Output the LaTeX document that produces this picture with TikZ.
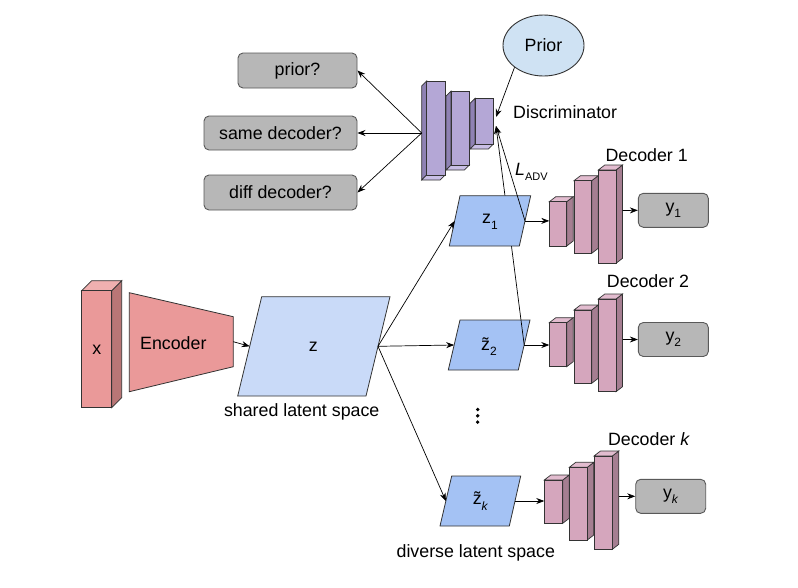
\documentclass[tikz,border=0pt]{standalone}
\usepackage{fontspec}
\setmainfont{Liberation Sans}
\usetikzlibrary{arrows.meta,shapes.geometric}
\definecolor{edge}{HTML}{333333}
\definecolor{boxgray}{HTML}{B7B7B7}
\definecolor{boxedge}{HTML}{595959}
\definecolor{priorblue}{HTML}{CFE2F3}
\definecolor{zbig}{HTML}{C9DAF8}
\definecolor{zsmall}{HTML}{A4C2F4}
\definecolor{redfront}{HTML}{EA9999}
\definecolor{redtop}{HTML}{F0B0B0}
\definecolor{redside}{HTML}{B97676}
\definecolor{decfront}{HTML}{D5A6BD}
\definecolor{dectop}{HTML}{E2BCCF}
\definecolor{decside}{HTML}{A57E91}
\definecolor{disfront}{HTML}{B4A7D6}
\definecolor{disbot}{HTML}{C9BFE6}
\definecolor{disside}{HTML}{8F82B4}
\newcommand\mydecbar[4]{%
  \filldraw[fill=decside,draw=edge,line width=0.7pt] (#3,#2) -- (#3+6.5,#2-5) -- (#3+6.5,#4-5) -- (#3,#4) -- cycle;
  \filldraw[fill=dectop,draw=edge,line width=0.7pt] (#1,#2) -- (#1+6.5,#2-5) -- (#3+6.5,#2-5) -- (#3,#2) -- cycle;
  \filldraw[fill=decfront,draw=edge,line width=0.7pt] (#1,#2) rectangle (#3,#4);
}
\newcommand\mydiscbar[4]{%
  \filldraw[fill=disside,draw=edge,line width=0.7pt] (#1,#2) -- (#1-5,#2+5) -- (#1-5,#4+5) -- (#1,#4) -- cycle;
  \filldraw[fill=disbot,draw=edge,line width=0.7pt] (#1,#4) -- (#1-5,#4+5) -- (#3-5,#4+5) -- (#3,#4) -- cycle;
  \filldraw[fill=disfront,draw=edge,line width=0.7pt] (#1,#2) rectangle (#3,#4);
}
\newcommand\sub[1]{\raisebox{-5.5pt}{\fontsize{12}{13}\selectfont #1}}
\begin{document}
\begin{tikzpicture}[x=1pt,y=-1pt,
  lbl/.style={font=\fontsize{17.8}{20}\selectfont, inner sep=0pt},
  graybox/.style={draw=boxedge, fill=boxgray, rounded corners=5pt, line width=0.9pt,
    font=\fontsize{17.8}{20}\selectfont, inner sep=0pt},
  arr/.style={-{Stealth[length=8pt,width=6pt]}, line width=0.7pt, draw=black},
  shapeline/.style={draw=edge, line width=0.8pt}]
\useasboundingbox (0,0) rectangle (798,587);
\fill[white] (0,0) rectangle (798,587);

% ---- gray output boxes
\node[graybox, minimum width=119pt, minimum height=35pt] (pq) at (297.5,70.5) {prior?};
\node[graybox, minimum width=153pt, minimum height=34pt] (sq) at (280.5,133) {same decoder?};
\node[graybox, minimum width=153pt, minimum height=35pt] (dq) at (280.5,192.5) {diff decoder?};
\node[graybox, minimum width=70pt, minimum height=34pt] (y1) at (673.3,210.3) {y\sub{1}};
\node[graybox, minimum width=70pt, minimum height=34pt] (y2) at (673.3,339.5) {y\sub{2}};
\node[graybox, minimum width=70pt, minimum height=34pt] (yk) at (670.7,496.3) {y\sub{\textit{k}}};

% ---- prior
\node[ellipse, draw=edge, fill=priorblue, line width=0.9pt, minimum width=81pt, minimum height=61pt,
  font=\fontsize{17.8}{20}\selectfont, inner sep=0pt] (prior) at (543.5,45.5) {Prior};

% ---- x block
\filldraw[fill=redside,draw=edge,line width=0.8pt] (111.7,290.7) -- (121.7,280.7) -- (121.7,397.7) -- (111.7,407.7) -- cycle;
\filldraw[fill=redtop,draw=edge,line width=0.8pt] (81.7,290.7) -- (91.7,280.7) -- (121.7,280.7) -- (111.7,290.7) -- cycle;
\filldraw[fill=redfront,draw=edge,line width=0.8pt] (81.7,290.7) rectangle (111.7,407.7);
\node[lbl] (xl) at (96.7,350) {x};

% ---- encoder
\filldraw[fill=redfront, shapeline] (129.3,292.7) -- (233.3,316.7) -- (233.3,366.7) -- (129.3,391.7) -- cycle;
\node[lbl] (encl) at (173.3,342.7) {Encoder};
\coordinate (encR) at (233.3,341.7);

% ---- shared z
\filldraw[fill=zbig, shapeline] (261.7,296.7) -- (390,296.7) -- (366,396) -- (237.7,396) -- cycle;
\node[lbl] (zl) at (313.3,347) {z};
\coordinate (zL) at (249.7,346.3);
\coordinate (zR) at (378,346.3);
\node[lbl] (shared) at (301.7,411.7) {shared latent space};

% ---- discriminator
\mydiscbar{426.7}{81}{445}{175}
\mydiscbar{451}{91}{469.3}{165}
\mydiscbar{475}{98.3}{493.3}{144}
\coordinate (D0) at (421.7,133);
\coordinate (Dp) at (496,117);
\coordinate (Dz) at (496,126);
\node[lbl, anchor=west] (discl) at (513,111.7) {Discriminator};
\node[lbl, anchor=west] (ladv) at (515,172) {\textit{L}\raisebox{-5pt}{\fontsize{11}{12}\selectfont ADV}};

% ---- z2 (drawn before the z2 -> D line)
\filldraw[fill=zsmall, shapeline] (460,320) -- (530,320) -- (518.3,370) -- (448.3,370) -- cycle;
\node[lbl] (z2l) at (489,346.5) {\~{z}\sub{2}};
\coordinate (z2L) at (454.2,345);
\coordinate (z2R) at (524.2,345);
\draw[arr] (z2R) -- (Dz);

% ---- z1
\filldraw[fill=zsmall, shapeline] (460,195.7) -- (530.7,195.7) -- (519.3,246) -- (449.3,246) -- cycle;
\node[lbl] (z1l) at (490,222) {z\sub{1}};
\coordinate (z1L) at (454.7,220.9);
\coordinate (z1R) at (525,220.9);
\draw[arr] (z1R) -- (Dz);

% ---- zk
\filldraw[fill=zsmall, shapeline] (451.7,476) -- (520.7,476) -- (509.3,526) -- (440,526) -- cycle;
\node[lbl] (zkl) at (480.5,501) {\~{z}\sub{\textit{k}}};
\coordinate (zkL) at (445.9,501);
\coordinate (zkR) at (515,501);
\node[lbl] (diverse) at (475.8,553) {diverse latent space};

% ---- dots
\fill (477.7,409.5) circle (1.9);
\fill (477.7,415.8) circle (1.9);
\fill (477.7,422.1) circle (1.9);

% ---- decoders
\mydecbar{549.3}{201.7}{566.7}{246}
\mydecbar{574}{180.7}{591.7}{253.3}
\mydecbar{598.3}{170}{616}{263.3}
\coordinate (d1L) at (549.3,220.9);
\coordinate (d1R) at (622.5,210.5);
\node[lbl] (dec1) at (646.7,155) {Decoder 1};

\mydecbar{549.3}{322.7}{566.7}{366.7}
\mydecbar{574}{310}{591.7}{383.3}
\mydecbar{598.3}{299}{616}{391.7}
\coordinate (d2L) at (549.3,345);
\coordinate (d2R) at (622.5,339.5);
\node[lbl] (dec2) at (648,281) {Decoder 2};

\mydecbar{544.3}{480}{562.7}{523.3}
\mydecbar{569.3}{467.3}{587.3}{540}
\mydecbar{594}{456}{612.3}{549.3}
\coordinate (dkL) at (544.3,501);
\coordinate (dkR) at (618.8,496.3);
\node[lbl] (deck) at (649,439.3) {Decoder \textit{k}};

% ---- connectors
\draw[arr] (encR) -- (zL);
\draw[arr] (zR) -- (z1L);
\draw[arr] (zR) -- (z2L);
\draw[arr] (zR) -- (zkL);
\draw[arr] (z1R) -- (d1L);
\draw[arr] (z2R) -- (d2L);
\draw[arr] (zkR) -- (dkL);
\draw[arr] (d1R) -- (y1.west);
\draw[arr] (d2R) -- (y2.west);
\draw[arr] (dkR) -- (yk.west);
\draw[arr] (D0) -- (pq.east);
\draw[arr] (D0) -- (sq.east);
\draw[arr] (D0) -- (dq.east);
\draw[arr] (prior.217) -- (Dp);
\end{tikzpicture}
\end{document}
